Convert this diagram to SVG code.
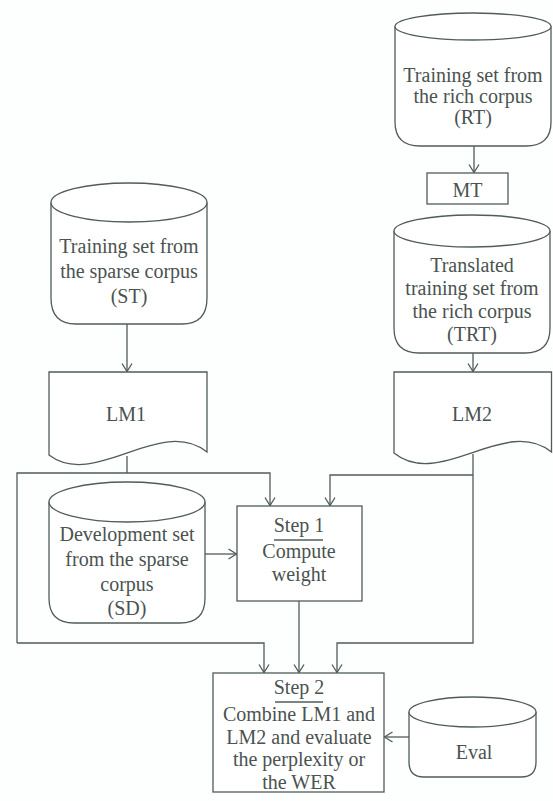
<svg xmlns="http://www.w3.org/2000/svg" width="553" height="801" viewBox="0 0 553 801">
<defs>
<style>
.s{fill:#ffffff;stroke:#505c58;stroke-width:1.3}
.l{fill:none;stroke:#505c58;stroke-width:1.3}
.t{font-family:"Liberation Serif","Times New Roman",serif;font-size:20px;fill:#4a5350;text-anchor:middle}
</style>
<marker id="a" viewBox="-10 -6 12 12" markerWidth="12" markerHeight="12" refX="0" refY="0" orient="auto" markerUnits="userSpaceOnUse">
<path d="M-8,-5 L0,0 L-8,5" fill="none" stroke="#505c58" stroke-width="1.3"/>
</marker>
</defs>
<rect width="553" height="801" fill="#fdfefe"/>

<g id="connectors">
<line class="l" x1="474" y1="146" x2="474" y2="172.5" marker-end="url(#a)"/>
<line class="l" x1="473" y1="353" x2="473" y2="371.5" marker-end="url(#a)"/>
<line class="l" x1="127" y1="324" x2="127" y2="371.5" marker-end="url(#a)"/>
<polyline class="l" points="127,456 127,473"/>
<polyline class="l" points="17,643 17,473 270,473 270,505.5" marker-end="url(#a)"/>
<polyline class="l" points="17,643 264,643 264,672.5" marker-end="url(#a)"/>
<polyline class="l" points="473,454 473,643 337,643 337,672.5" marker-end="url(#a)"/>
<polyline class="l" points="473,475 330,475 330,505.5" marker-end="url(#a)"/>
<line class="l" x1="205" y1="554" x2="236.5" y2="554" marker-end="url(#a)"/>
<line class="l" x1="299" y1="601" x2="299" y2="672.5" marker-end="url(#a)"/>
<line class="l" x1="409" y1="737" x2="384.5" y2="737" marker-end="url(#a)"/>
</g>

<g id="RT">
<path class="s" d="M395,26.5 V122 Q395,146 420,146 H526 Q551,146 551,122 V26.5"/>
<ellipse class="s" cx="473" cy="26.5" rx="78" ry="13.5"/>
<text class="t" x="473" y="82">Training set from</text>
<text class="t" x="473" y="103">the rich corpus</text>
<text class="t" x="473" y="124">(RT)</text>
</g>

<g id="MT">
<rect class="s" x="427" y="173" width="81" height="31"/>
<text class="t" x="467.5" y="197">MT</text>
</g>

<g id="TRT">
<path class="s" d="M394,231 V328 Q394,353 419,353 H525 Q550,353 550,328 V231"/>
<ellipse class="s" cx="472" cy="231" rx="78" ry="16"/>
<text class="t" x="472" y="272">Translated</text>
<text class="t" x="472" y="295">training set from</text>
<text class="t" x="472" y="318">the rich corpus</text>
<text class="t" x="472" y="341">(TRT)</text>
</g>

<g id="ST">
<path class="s" d="M51,202.5 V298 Q51,324 76,324 H182 Q207,324 207,298 V202.5"/>
<ellipse class="s" cx="129" cy="202.5" rx="78" ry="19.5"/>
<text class="t" x="129" y="253">Training set from</text>
<text class="t" x="129" y="278">the sparse corpus</text>
<text class="t" x="129" y="303">(ST)</text>
</g>

<g id="LM1">
<path class="s" d="M49,455 V372 H207 V452 C160,415 95,490 49,455 Z"/>
<text class="t" x="126" y="421">LM1</text>
</g>

<g id="LM2">
<path class="s" d="M394,453 V372 H551.5 V452 C505,415 440,490 394,453 Z"/>
<text class="t" x="472" y="421">LM2</text>
</g>

<g id="SD">
<path class="s" d="M49,502 V598 Q49,623 74,623 H180 Q205,623 205,598 V502"/>
<ellipse class="s" cx="127" cy="502" rx="78" ry="20"/>
<text class="t" x="127" y="541">Development set</text>
<text class="t" x="127" y="566">from the sparse</text>
<text class="t" x="127" y="591">corpus</text>
<text class="t" x="127" y="615">(SD)</text>
</g>

<g id="Step1">
<rect class="s" x="237" y="506" width="125" height="95"/>
<text class="t" x="299" y="532">Step 1</text>
<line class="l" x1="274" y1="540" x2="323" y2="540"/>
<text class="t" x="299" y="558">Compute</text>
<text class="t" x="299" y="581">weight</text>
</g>

<g id="Step2">
<rect class="s" x="213" y="673" width="171" height="119"/>
<text class="t" x="299" y="694">Step 2</text>
<line class="l" x1="275" y1="702" x2="323" y2="702"/>
<text class="t" x="299" y="721">Combine LM1 and</text>
<text class="t" x="299" y="743.5">LM2 and evaluate</text>
<text class="t" x="299" y="766">the perplexity or</text>
<text class="t" x="299" y="788.5">the WER</text>
</g>

<g id="Eval">
<path class="s" d="M409,712 V762 Q409,777 424,777 H521 Q536,777 536,762 V712"/>
<ellipse class="s" cx="472.5" cy="712" rx="63.5" ry="15"/>
<text class="t" x="474" y="759">Eval</text>
</g>
</svg>
